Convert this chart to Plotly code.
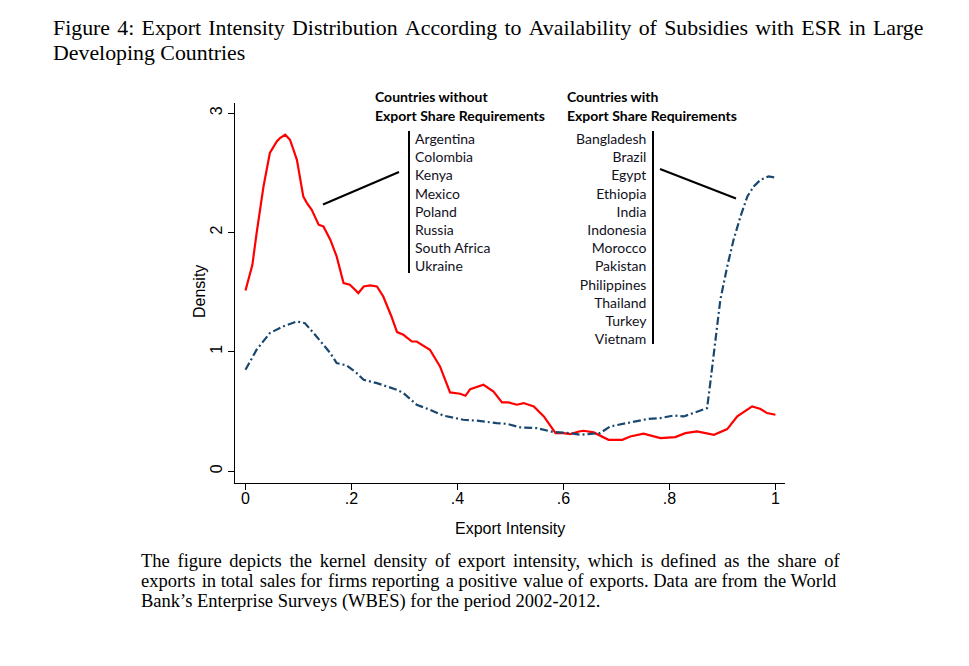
import plotly.graph_objects as go

# ---- data ----
x_without = [0, .013, .021, .034, .046, .059, .065, .075, .084, .097, .109, .116, .125, .138, .147,
             .160, .172, .185, .197, .213, .223, .235, .248, .260, .275, .286, .298, .314, .323, .336,
             .348, .367, .386, .405, .415, .424, .449, .468, .484, .496, .512, .525, .544, .563, .585,
             .600, .613, .629, .638, .657, .685, .711, .726, .751, .783, .811, .830, .852, .884, .909,
             .928, .956, .972, .984, 1.0]
density_without = [1.514, 1.729, 1.995, 2.386, 2.666, 2.763, 2.79, 2.819, 2.777, 2.609, 2.302, 2.246,
                   2.19, 2.065, 2.05, 1.939, 1.799, 1.576, 1.562, 1.492, 1.547, 1.556, 1.547, 1.463,
                   1.30, 1.165, 1.142, 1.086, 1.086, 1.05, 1.017, .877, .659, .648, .631, .687, .723,
                   .667, .575, .575, .556, .57, .541, .458, .318, .318, .31, .332, .338, .324, .262,
                   .262, .29, .313, .277, .285, .318, .332, .304, .352, .458, .542, .52, .486, .472]

x_with = [0, .021, .046, .071, .097, .112, .134, .160, .172, .191, .210, .223, .248, .286, .298,
          .323, .348, .374, .411, .437, .474, .493, .518, .550, .581, .613, .632, .669, .688, .720,
          .758, .783, .808, .827, .846, .871, .877, .887, .896, .909, .921, .934, .947, .959, .972,
          .987, 1.0]
density_with = [.849, 1.017, 1.157, 1.212, 1.254, 1.24, 1.128, .989, .905, .885, .821, .765, .737,
                .681, .654, .556, .514, .464, .43, .422, .402, .396, .366, .36, .327, .318, .304,
                .318, .374, .402, .436, .444, .466, .458, .486, .528, .738, 1.1, 1.436, 1.715,
                1.939, 2.134, 2.302, 2.386, 2.442, 2.47, 2.46]

countries_without = ["Argentina", "Colombia", "Kenya", "Mexico", "Poland", "Russia",
                     "South Africa", "Ukraine"]
countries_with = ["Bangladesh", "Brazil", "Egypt", "Ethiopia", "India", "Indonesia", "Morocco",
                  "Pakistan", "Philippines", "Thailand", "Turkey", "Vietnam"]

x_ticks = [0, 0.2, 0.4, 0.6, 0.8, 1]
x_tick_labels = ["0", ".2", ".4", ".6", ".8", "1"]
y_ticks = [0, 1, 2, 3]
y_tick_labels = ["0", "1", "2", "3"]

title_lines = ["Figure 4: Export Intensity Distribution According to Availability of Subsidies with ESR in Large",
               "Developing Countries"]
caption_lines = ["The figure depicts the kernel density of export intensity, which is defined as the share of",
                 "exports in total sales for firms reporting a positive value of exports. Data are from the World",
                 "Bank\u2019s Enterprise Surveys (WBES) for the period 2002-2012."]

# ---- layout geometry (reference-image pixels; the page body adds an 8px margin) ----
OFF = 8
W, H = 969 - OFF, 666 - OFF
L, R, T, B = 235, 785, 103, 483


def px(xp):
    return (xp - L) / (R - L)


def py(yp):
    return (B - yp) / (B - T)


def justify(text, extra, every=1):
    # widen inter-word spaces slightly to imitate LaTeX justified lines
    words = text.split(" ")
    out = words[0]
    for i, w in enumerate(words[1:]):
        out += " " + (extra if i % every == 0 else "") + w
    return out


fig = go.Figure()
fig.add_trace(go.Scatter(x=x_without, y=density_without, mode="lines",
                         line=dict(color="#ff0000", width=2.2), showlegend=False))
fig.add_trace(go.Scatter(x=x_with, y=density_with, mode="lines",
                         line=dict(color="#1a476f", width=2.2, dash="8px,3px,2px,3px"),
                         showlegend=False))

axis_font = dict(family="Liberation Sans, Arial, sans-serif", size=16, color="#000")

fig.update_layout(
    width=W, height=H,
    margin=dict(l=L - OFF, r=W - (R - OFF), t=T - OFF, b=H - (B - OFF), pad=0),
    paper_bgcolor="white", plot_bgcolor="white",
    font=axis_font,
    xaxis=dict(range=[-0.0198, 1.018], tickvals=x_ticks, ticktext=x_tick_labels,
               showline=True, linecolor="#000", linewidth=1, ticks="outside", ticklen=6,
               tickcolor="#000", showgrid=False, zeroline=False, tickfont=axis_font,
               ticklabelstandoff=-5),
    yaxis=dict(range=[-0.1, 3.085], tickvals=y_ticks, ticktext=y_tick_labels, tickangle=-90,
               showline=True, linecolor="#000", linewidth=1, ticks="outside", ticklen=6,
               tickcolor="#000", showgrid=False, zeroline=False, tickfont=axis_font,
               ticklabelstandoff=0),
)

serif = "Liberation Serif, DejaVu Serif, serif"
HAIR = "\u200a"
ann = []
# axis titles
ann.append(dict(text="Density", x=px(199), y=py(292), xref="paper", yref="paper",
                xanchor="center", yanchor="middle", textangle=-90, showarrow=False, font=axis_font))
ann.append(dict(text="Export Intensity", x=px(510), y=py(528), xref="paper", yref="paper",
                xanchor="center", yanchor="middle", showarrow=False, font=axis_font))
# title
ann.append(dict(text=justify(title_lines[0], HAIR), x=px(51), y=py(28.5), xref="paper", yref="paper",
                xanchor="left", yanchor="middle", showarrow=False,
                font=dict(family=serif, size=21.85, color="#000")))
ann.append(dict(text=title_lines[1], x=px(51), y=py(52.5), xref="paper", yref="paper",
                xanchor="left", yanchor="middle", showarrow=False,
                font=dict(family=serif, size=21.85, color="#000")))
# caption
cap_extra = [(HAIR + HAIR, 1), (HAIR, 2), ("", 1)]
for i, t in enumerate(caption_lines):
    extra, every = cap_extra[i]
    ann.append(dict(text=justify(t, extra, every) if extra else t,
                    x=px(139), y=py(561 + 20 * i), xref="paper", yref="paper",
                    xanchor="left", yanchor="middle", showarrow=False,
                    font=dict(family=serif, size=18.5, color="#000")))

sans = "Lato, Carlito, Open Sans, sans-serif"
# headers
for txt, xp, yp in [("Countries without", 373, 97), ("Export Share Requirements", 373, 115),
                    ("Countries with", 565, 97), ("Export Share Requirements", 565, 115)]:
    ann.append(dict(text="<b>" + txt + "</b>", x=px(xp), y=py(yp), xref="paper", yref="paper",
                    xanchor="left", yanchor="middle", showarrow=False,
                    font=dict(family=sans, size=14, color="#000")))
# country lists
ann.append(dict(text="<br>".join(countries_without), x=px(413), y=py(138 + 3.5 * 18.2),
                xref="paper", yref="paper", xanchor="left", yanchor="middle", align="left",
                showarrow=False, font=dict(family=sans, size=14, color="#111122")))
ann.append(dict(text="<br>".join(countries_with), x=px(649), y=py(138 + 5.5 * 18.2),
                xref="paper", yref="paper", xanchor="right", yanchor="middle", align="right",
                showarrow=False, font=dict(family=sans, size=14, color="#111122")))
fig.update_layout(annotations=ann)

shapes = [
    dict(type="line", xref="paper", yref="paper", x0=px(409), x1=px(409), y0=py(131), y1=py(273),
         line=dict(color="#000", width=2)),
    dict(type="line", xref="paper", yref="paper", x0=px(653), x1=px(653), y0=py(131), y1=py(344),
         line=dict(color="#000", width=2)),
    dict(type="line", xref="paper", yref="paper", x0=px(323), x1=px(399), y0=py(204.5), y1=py(172),
         line=dict(color="#000", width=2)),
    dict(type="line", xref="paper", yref="paper", x0=px(660), x1=px(736), y0=py(169), y1=py(198.5),
         line=dict(color="#000", width=2)),
]
fig.update_layout(shapes=shapes)

fig.write_html("out.html")
